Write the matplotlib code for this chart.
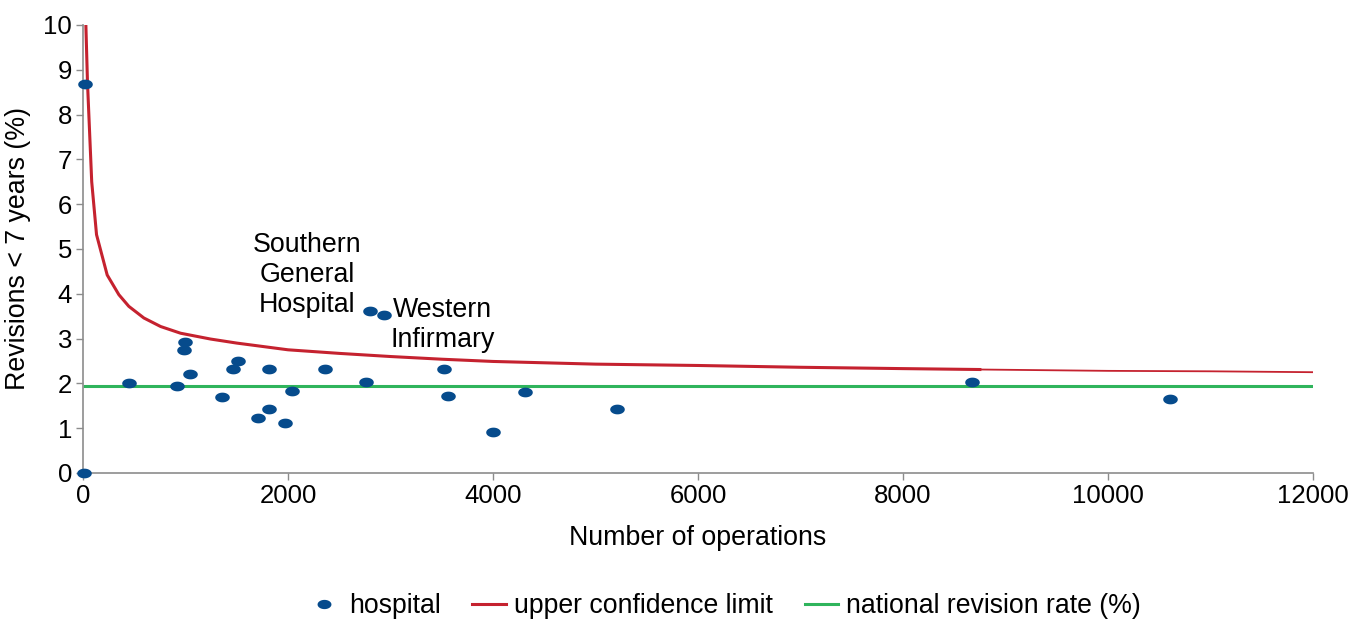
import matplotlib
matplotlib.use("Agg")
import matplotlib.pyplot as plt
from matplotlib.path import Path
from matplotlib.lines import Line2D
import numpy as np

plt.rcParams['font.family'] = ['Liberation Sans', 'DejaVu Sans']

# hospital data: number of operations, revisions < 7 years (%)
hosp_n = [18, 8, 447, 920, 991, 985, 1040, 1359, 1463, 1512, 1812, 1711, 1812,
          1974, 2036, 2362, 2759, 2798, 2932, 3524, 3563, 3996, 4314, 5207,
          8670, 10607]
hosp_rate = [8.68, 0.0, 2.0, 1.95, 2.92, 2.74, 2.21, 1.69, 2.33, 2.51, 2.32, 1.23,
             1.43, 1.12, 1.82, 2.33, 2.03, 3.61, 3.52, 2.33, 1.71, 0.92, 1.81,
             1.43, 2.04, 1.65]

# upper confidence limit
ucl_n = [28, 44, 85, 132, 236, 350, 447, 594, 757, 952, 1245, 1500, 2000, 2500,
         3000, 3500, 4000, 5000, 6000, 7000, 8000, 8750, 10000, 11000, 12000]
ucl_rate = [10.0, 8.7, 6.5, 5.32, 4.42, 3.98, 3.72, 3.46, 3.27, 3.12, 2.99, 2.90,
            2.75, 2.67, 2.60, 2.54, 2.49, 2.43, 2.40, 2.36, 2.33, 2.31, 2.28,
            2.27, 2.25]

national_rate = 1.95
x_range = [0, 12000]

x_ticks = [0, 2000, 4000, 6000, 8000, 10000, 12000]
y_ticks = list(range(0, 11))

BLUE = '#064b8c'
RED = '#c5222f'
GREEN = '#2fb45c'
GREY = '#8c8c8c'

# ellipse marker
t = np.linspace(0, 2 * np.pi, 60)
ell = Path(np.column_stack([1.5 * np.cos(t), np.sin(t)]), closed=True)

fig = plt.figure(figsize=(13.59, 6.21), dpi=100)
ax = fig.add_axes([83 / 1359, 1 - 473 / 621, (1313 - 83) / 1359, (473 - 25) / 621])

ax.plot(x_range, [national_rate, national_rate], color=GREEN, lw=2.2, zorder=2,
        solid_capstyle='butt')
split = ucl_n.index(8750) + 1
ax.plot(ucl_n[:split], ucl_rate[:split], color=RED, lw=2.2, zorder=3, clip_on=True)
ax.plot(ucl_n[split - 1:], ucl_rate[split - 1:], color=RED, lw=1.3, zorder=3)
ax.plot(hosp_n, hosp_rate, linestyle='none', marker=ell, markersize=10.5,
        color=BLUE, markeredgewidth=0, zorder=4, clip_on=False)

ax.set_xlim(0, 12000)
ax.set_ylim(0, 10)
ax.set_xticks(x_ticks)
ax.set_yticks(y_ticks)
ax.tick_params(axis='both', labelsize=18.5, color=GREY, length=5, width=1)
ax.tick_params(axis='x', pad=3)
ax.tick_params(axis='y', pad=3)
for s in ['top', 'right']:
    ax.spines[s].set_visible(False)
for s in ['left', 'bottom']:
    ax.spines[s].set_color(GREY)
    ax.spines[s].set_linewidth(1.2)

ax.set_xlabel('Number of operations', fontsize=19.3, labelpad=12)
ax.set_ylabel('Revisions < 7 years (%)', fontsize=19.3, labelpad=9)

ax.text(2183, 4.42, 'Southern\nGeneral\nHospital', fontsize=19.3, ha='center',
        va='center', multialignment='center', linespacing=1.18)
ax.text(3511, 3.31, 'Western\nInfirmary', fontsize=19.3, ha='center',
        va='center', multialignment='center', linespacing=1.18)

handles = [
    Line2D([], [], linestyle='none', marker=ell, markersize=10, color=BLUE,
           markeredgewidth=0),
    Line2D([], [], color=RED, lw=2.2),
    Line2D([], [], color=GREEN, lw=2.2),
]
labels = ['hospital', 'upper confidence limit', 'national revision rate (%)']
fig.legend(handles, labels, loc='center', bbox_to_anchor=(724 / 1359, 1 - 606 / 621),
           ncol=3, frameon=False, fontsize=19.2, handlelength=1.25, handletextpad=0.3,
           columnspacing=1.2, borderpad=0)

fig.savefig('out.png', dpi=100)
